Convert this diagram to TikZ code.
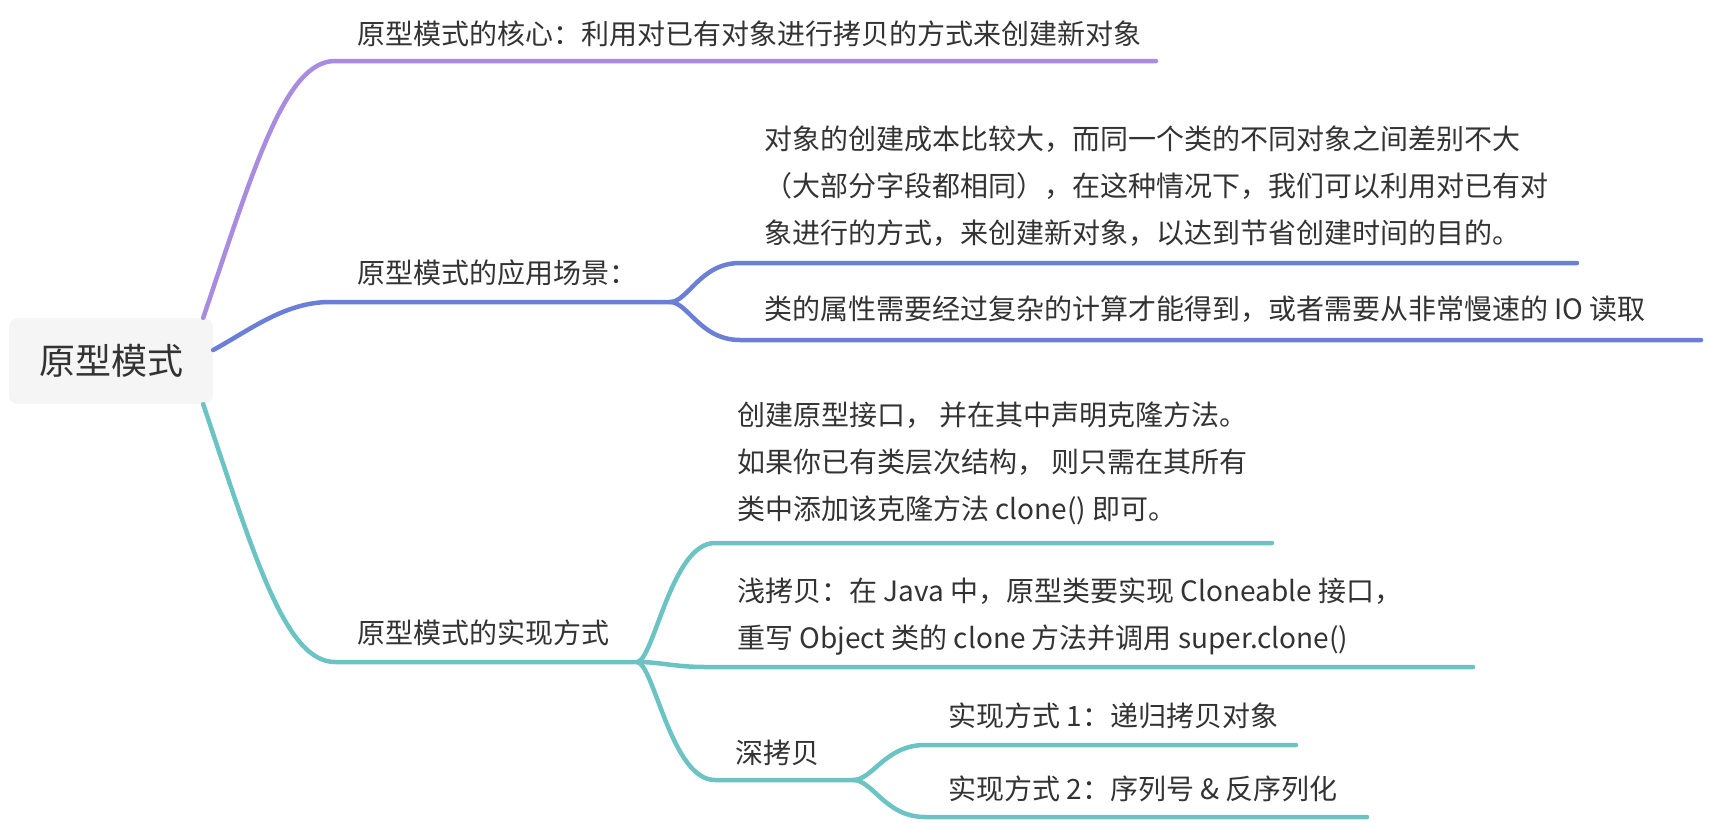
\documentclass[tikz,border=0pt]{standalone}
\usepackage{fontspec}
\setmainfont{Noto Sans CJK SC}
\definecolor{purp}{HTML}{A98BE0}
\definecolor{blu}{HTML}{6B7FD7}
\definecolor{tealc}{HTML}{6CC3C3}
\definecolor{txt}{HTML}{333333}
\definecolor{rootfill}{HTML}{F5F5F5}
\begin{document}
\begin{tikzpicture}[x=1pt,y=-1pt,
  lbl/.style={anchor=base west, inner sep=0pt, text=txt, font=\fontsize{28}{46}\selectfont, align=left},
  lblwide/.style={lbl, font=\fontsize{28}{47}\selectfont},
  br/.style={line width=4.5pt, line cap=round, line join=round},
]
\useasboundingbox (0,0) rectangle (1710,822);
\node[fill=rootfill, rounded corners=9pt, minimum width=204pt, minimum height=86pt, inner sep=0pt, text=txt, font=\fontsize{36}{36}\selectfont] (root) at (111,361) {\raisebox{-2.5pt}{原型模式}};

% coordinates
\coordinate (p0) at (335,61);
\coordinate (p1) at (1156,61);
\coordinate (b0) at (330,302);
\coordinate (b1) at (670,302);
\coordinate (b2) at (740,263);
\coordinate (b3) at (1577,263);
\coordinate (b4) at (740,340);
\coordinate (b5) at (1701,340);
\coordinate (t0) at (335,662);
\coordinate (t1) at (638,662);
\coordinate (t2) at (715,543);
\coordinate (t3) at (1272,543);
\coordinate (t4) at (705,667);
\coordinate (t5) at (1473,667);
\coordinate (t6) at (715,780);
\coordinate (t7) at (853,780);
\coordinate (t8) at (925,745);
\coordinate (t9) at (1296,745);
\coordinate (t10) at (925,817);
\coordinate (t11) at (1367,817);

% purple branch
\draw[br,purp] ([xshift=-10pt]root.north east) .. controls (254,168) and (285,61) .. (p0) -- (p1);
% blue branch
\draw[br,blu] ([yshift=11pt]root.east) .. controls (250,330) and (285,302) .. (b0) -- (b1);
\draw[br,blu] (b1) .. controls (688,302) and (700,263) .. (b2) -- (b3);
\draw[br,blu] (b1) .. controls (688,302) and (700,340) .. (b4) -- (b5);
% teal branch
\draw[br,tealc] ([xshift=-10pt]root.south east) .. controls (254,555) and (285,662) .. (t0) -- (t1);
\draw[br,tealc] (t1) .. controls (655,655) and (672,543) .. (t2) -- (t3);
\draw[br,tealc] (t1) .. controls (660,662) and (675,667) .. (t4) -- (t5);
\draw[br,tealc] (t1) .. controls (655,669) and (672,780) .. (t6) -- (t7);
\draw[br,tealc] (t7) .. controls (873,780) and (885,745) .. (t8) -- (t9);
\draw[br,tealc] (t7) .. controls (873,780) and (885,817) .. (t10) -- (t11);

% texts (base anchor of a multi-line node = baseline of its last line)
\node[lbl] (core) at (357,44) {原型模式的核心：利用对已有对象进行拷贝的方式来创建新对象};
\node[lbl] (scene) at (357,283) {原型模式的应用场景：};
\node[lblwide] (s1) at (764,243) {对象的创建成本比较大，而同一个类的不同对象之间差别不大\\（大部分字段都相同），在这种情况下，我们可以利用对已有对\\象进行的方式，来创建新对象，以达到节省创建时间的目的。};
\node[lbl] (s2) at (764,319.5) {类的属性需要经过复杂的计算才能得到，或者需要从非常慢速的 IO 读取};
\node[lbl] (impl) at (357,643.5) {原型模式的实现方式};
\node[lblwide] (i1) at (737,519) {创建原型接口， 并在其中声明克隆方法。\\如果你已有类层次结构， 则只需在其所有\\类中添加该克隆方法 clone() 即可。};
\node[lblwide] (i2) at (737,648.5) {浅拷贝：在 Java 中，原型类要实现 Cloneable 接口，\\重写 Object 类的 clone 方法并调用 super.clone()};
\node[lbl] (i3) at (735,763.5) {深拷贝};
\node[lbl] (d1) at (948,726.5) {实现方式 1：递归拷贝对象};
\node[lbl] (d2) at (948,799.5) {实现方式 2：序列号 \& 反序列化};
\end{tikzpicture}
\end{document}
